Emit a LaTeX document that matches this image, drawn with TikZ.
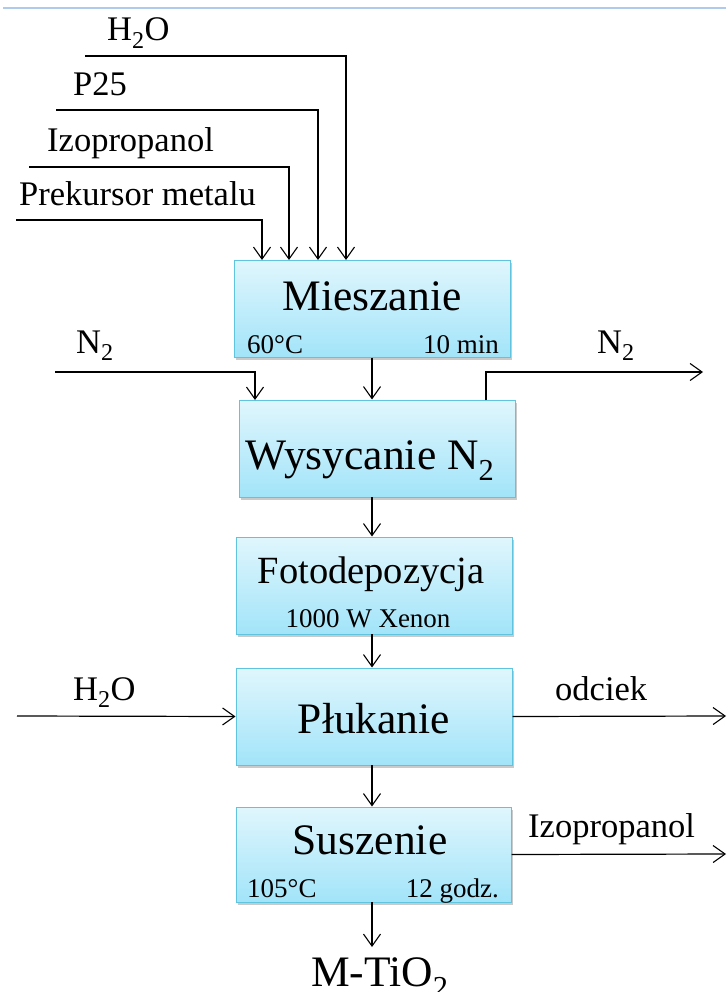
\documentclass[tikz,border=0pt]{standalone}
\usepackage{fontspec}
\setmainfont{Liberation Serif}
\usetikzlibrary{arrows.meta,shadows}
\definecolor{boxtop}{RGB}{224,246,253}
\definecolor{boxbot}{RGB}{162,228,249}
\definecolor{boxline}{RGB}{96,196,222}
\definecolor{topline}{RGB}{176,202,236}
\newcommand{\bigf}{\fontsize{43.5}{48}\selectfont}
\newcommand{\midf}{\fontsize{38.5}{44}\selectfont}
\newcommand{\labf}{\fontsize{34.5}{38}\selectfont}
\newcommand{\smf}{\fontsize{27}{31}\selectfont}
\newcommand{\subtwo}{\textsubscript{2}}
\begin{document}
\begin{tikzpicture}[x=1pt,y=-1pt,
  procbox/.style={draw=boxline,line width=1pt,top color=boxtop,bottom color=boxbot,
    drop shadow={shadow xshift=2pt,shadow yshift=-2.5pt,opacity=0.35,fill=black!60},
    inner sep=0pt},
  flow/.style={line width=1.2pt,-{Straight Barb[length=12pt,width=17pt,line width=1.1pt]}},
  lab/.style={inner sep=0pt,anchor=base west,font=\labf},
  sm/.style={inner sep=0pt,font=\smf}]
\useasboundingbox (0,0) rectangle (726,992);
\draw[topline,line width=2pt] (3,8) -- (726,8);

% boxes
\node[procbox,minimum width=276pt,minimum height=97pt] (mix) at (372,308.5) {};
\node[procbox,minimum width=276pt,minimum height=97pt] (wys) at (377,448.5) {};
\node[procbox,minimum width=276pt,minimum height=97pt] (foto) at (374,585.5) {};
\node[procbox,minimum width=276pt,minimum height=97pt] (pluk) at (374,716.5) {};
\node[procbox,minimum width=275pt,minimum height=95pt] (susz) at (373.5,854.5) {};

% box texts
\node[inner sep=0pt,anchor=base,font=\bigf] (mixt) at (372,310) {Mieszanie};
\node[sm,anchor=base west] (mixa) at (247,353) {60°C};
\node[sm,anchor=base east] (mixb) at (499,353) {10 min};
\node[inner sep=0pt,anchor=base,font=\bigf] (wyst) at (370,469) {Wysycanie N\subtwo};
\node[inner sep=0pt,anchor=base,font=\midf] (fotot) at (371,583) {Fotodepozycja};
\node[sm,anchor=base] (fotob) at (368,627) {1000 W Xenon};
\node[inner sep=0pt,anchor=base,font=\bigf] (plukt) at (374,733) {Płukanie};
\node[inner sep=0pt,anchor=base,font=\bigf] (susztt) at (370,854) {Suszenie};
\node[sm,anchor=base west] (susza) at (247,897) {105°C};
\node[sm,anchor=base east] (suszb) at (499,897) {12 godz.};

% top feeds
\node[lab] (lh2o) at (107,41) {H\subtwo O};
\node[lab] (lp25) at (73,96) {P25};
\node[lab] (liso) at (47,152) {Izopropanol};
\node[lab] (lprek) at (19,206) {Prekursor metalu};
\coordinate (sh2o) at (85,56);
\coordinate (sp25) at (56,110);
\coordinate (siso) at (29,167);
\coordinate (sprek) at (16,220);
\draw[flow] (sh2o) -- (346,56) -- (346,260);
\draw[flow] (sp25) -- (318,110) -- (318,260);
\draw[flow] (siso) -- (289,167) -- (289,260);
\draw[flow] (sprek) -- (262,220) -- (262,260);

% N2 lines
\node[lab] (ln2a) at (76,353) {N\subtwo};
\node[lab] (ln2b) at (597,353) {N\subtwo};
\coordinate (sn2) at (55,372);
\coordinate (en2) at (703,372);
\draw[flow] (sn2) -- (255,372) -- (255,400);
\draw[flow] (486,400) -- (486,372) -- (en2);

% main chain
\draw[flow] (mix.south) -- (wys.north -| mix.south);
\draw[flow] (372,497) -- (foto.north -| 372,0);
\draw[flow] (372,634) -- (pluk.north -| 372,0);
\draw[flow] (372,765) -- (susz.north -| 372,0);
\draw[flow] (372,902) -- (372,947);
\node[inner sep=0pt,anchor=base,font=\bigf] (prod) at (380,986) {M-TiO\subtwo};

% side streams
\node[lab] (lh2ob) at (73,700) {H\subtwo O};
\coordinate (sh2ob) at (17,716);
\draw[flow] (sh2ob) -- (pluk.west);
\node[lab] (lodc) at (555,700) {odciek};
\coordinate (eodc) at (726,716);
\draw[flow] (pluk.east) -- (eodc);
\node[lab] (liso2) at (528,837) {Izopropanol};
\coordinate (eiso) at (726,854);
\draw[flow] (susz.east) -- (eiso);
\end{tikzpicture}
\end{document}
